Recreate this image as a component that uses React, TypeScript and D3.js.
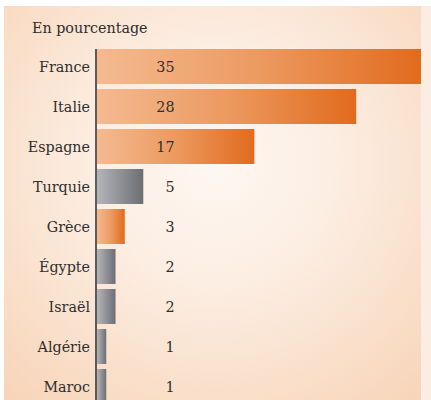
import React from "react";
import * as d3 from "d3";

const countries = ["France", "Italie", "Espagne", "Turquie", "Grèce", "Égypte", "Israël", "Algérie", "Maroc"];
const values = [35, 28, 17, 5, 3, 2, 2, 1, 1];
const highlighted = [true, true, true, false, true, false, false, false, false];
const title = "En pourcentage";

const W = 431;
const H = 400;
const FS = 14.3;
const textStyle: React.CSSProperties = { fontFamily: '"DejaVu Serif", serif' };

export default function App() {
  const x = d3.scaleLinear().domain([0, 35]).range([97, 421]);
  const y = d3
    .scaleBand<string>()
    .domain(countries)
    .range([46.5, 46.5 + countries.length * 40])
    .paddingInner(0.125)
    .paddingOuter(0.0625);

  return (
    <svg width={W} height={H} style={{ position: "absolute", left: 0, top: 0 }}>
      <defs>
        <radialGradient id="bg" gradientUnits="userSpaceOnUse" cx={215} cy={165} r={330}>
          <stop offset="0" stopColor="#FEF7F1" />
          <stop offset="0.35" stopColor="#FCEEE3" />
          <stop offset="1" stopColor="#F7D2B4" />
        </radialGradient>
        <linearGradient id="orange" x1="0" x2="1" y1="0" y2="0">
          <stop offset="0" stopColor="#F4BA90" />
          <stop offset="0.5" stopColor="#EC9A60" />
          <stop offset="1" stopColor="#E16B1D" />
        </linearGradient>
        <linearGradient id="gray" x1="0" x2="1" y1="0" y2="0">
          <stop offset="0" stopColor="#B3B5BA" />
          <stop offset="1" stopColor="#6C6E73" />
        </linearGradient>
      </defs>
      <rect x={0} y={0} width={W} height={H} fill="#FFFFFF" />
      <rect x={4} y={6} width={417} height={H - 6} fill="url(#bg)" />
      <rect x={421} y={6} width={10} height={H - 6} fill="#FCEDE2" />
      <text x={32} y={33} fontSize={FS} fill="#2E2E2E" style={textStyle}>
        {title}
      </text>
      {countries.map((c, i) => {
        const y0 = y(c)!;
        const bw = y.bandwidth();
        return (
          <g key={c}>
            <rect
              x={x(0)}
              y={y0}
              width={x(values[i]) - x(0)}
              height={bw}
              fill={highlighted[i] ? "url(#orange)" : "url(#gray)"}
            />
            <text
              x={90}
              y={y0 + bw / 2}
              dy="0.36em"
              textAnchor="end"
              fontSize={FS}
              fill="#2E2E2E"
              style={textStyle}
            >
              {c}
            </text>
            <text
              x={174.5}
              y={y0 + bw / 2}
              dy="0.36em"
              textAnchor="end"
              fontSize={FS}
              fill="#2E2E2E"
              style={textStyle}
            >
              {values[i]}
            </text>
          </g>
        );
      })}
      <line x1={96} x2={96} y1={49} y2={H} stroke="#2A2A2A" strokeWidth={1.5} />
    </svg>
  );
}
